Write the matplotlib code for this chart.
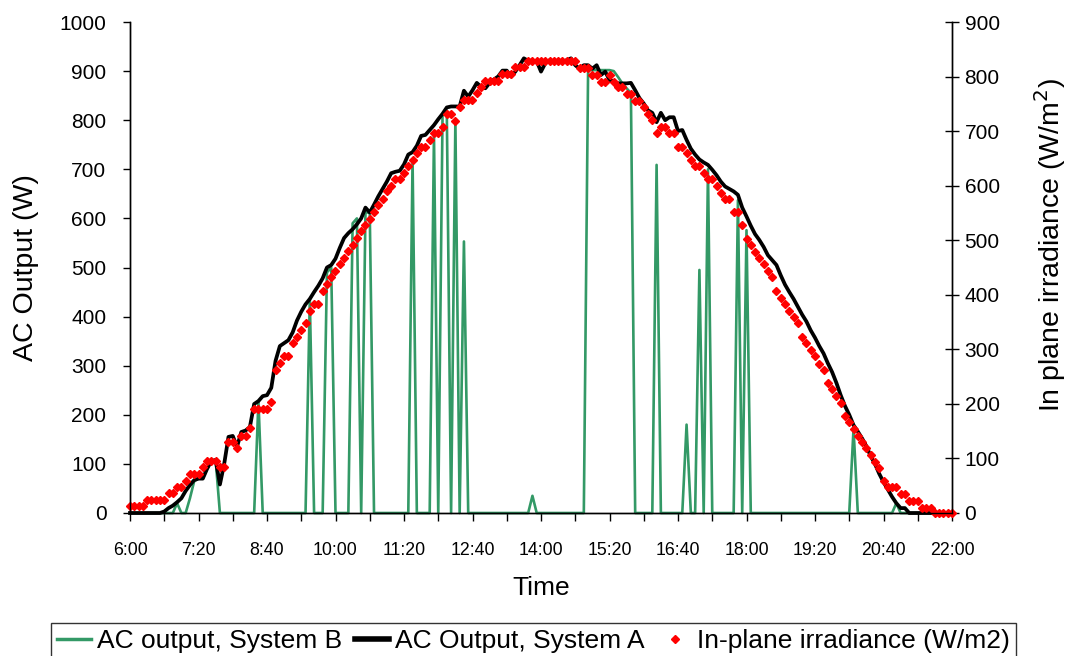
import numpy as np
import matplotlib
matplotlib.use("Agg")
import matplotlib.pyplot as plt
from matplotlib.lines import Line2D

plt.rcParams['font.family'] = ['Liberation Sans', 'DejaVu Sans']

# time axis: 5-minute readings from 6:00 to 22:00 (minutes after midnight)
minutes = np.arange(360, 1325, 5)

tick_labels = ["6:00", "7:20", "8:40", "10:00", "11:20", "12:40", "14:00",
               "15:20", "16:40", "18:00", "19:20", "20:40", "22:00"]

# AC output, System A (W)
system_a = [
    0, 0, 0, 0, 0, 0, 0, 0, 3, 10, 15, 22, 30, 45, 57, 67, 70, 70, 90, 106,
    108, 58, 100, 155, 157, 135, 165, 168, 175, 222, 228, 238, 240, 255, 310, 340, 346, 352, 368, 392,
    410, 425, 436, 450, 463, 478, 500, 505, 518, 540, 560, 570, 578, 588, 600, 622, 612, 628, 645, 660,
    675, 692, 695, 697, 710, 730, 735, 748, 768, 770, 780, 790, 802, 813, 826, 828, 828, 828, 860, 848,
    861, 876, 868, 865, 876, 883, 889, 901, 901, 889, 899, 912, 926, 921, 921, 920, 899, 916, 922, 920,
    920, 920, 922, 926, 912, 905, 912, 912, 905, 912, 892, 899, 882, 879, 875, 875, 875, 876, 861, 845,
    834, 820, 815, 796, 815, 800, 806, 806, 778, 780, 760, 742, 730, 720, 714, 709, 699, 688, 675, 665,
    660, 655, 648, 622, 604, 585, 568, 556, 542, 525, 515, 505, 484, 465, 450, 436, 420, 404, 390, 372,
    357, 340, 325, 305, 287, 265, 240, 218, 200, 179, 166, 152, 136, 116, 100, 80, 63, 48, 33, 20,
    10, 10, 0, 0, 0, 0, 0, 0, 0, 0, 0, 0, 0,
]

# AC output, System B (W)
system_b = [
    0, 0, 0, 0, 0, 0, 0, 0, 0, 0, 0, 20, 0, 0, 30, 65, 70, 70, 90, 106,
    108, 0, 0, 0, 0, 0, 0, 0, 0, 0, 228, 0, 0, 0, 0, 0, 0, 0, 0, 0,
    0, 0, 436, 0, 0, 0, 490, 500, 0, 0, 0, 0, 590, 600, 0, 612, 612, 0, 0, 0,
    0, 0, 0, 0, 0, 0, 720, 0, 0, 0, 0, 773, 0, 810, 815, 0, 800, 0, 553, 0,
    0, 0, 0, 0, 0, 0, 0, 0, 0, 0, 0, 0, 0, 0, 35, 0, 0, 0, 0, 0,
    0, 0, 0, 0, 0, 0, 0, 902, 902, 902, 902, 902, 902, 900, 888, 875, 865, 855, 0, 0,
    0, 0, 0, 709, 0, 0, 0, 0, 0, 0, 180, 0, 0, 495, 0, 700, 0, 0, 0, 0,
    0, 0, 637, 0, 576, 0, 0, 0, 0, 0, 0, 0, 0, 0, 0, 0, 0, 0, 0, 0,
    0, 0, 0, 0, 0, 0, 0, 0, 0, 172, 0, 0, 0, 0, 0, 0, 0, 0, 0, 20,
    0, 0, 0, 0, 0, 0, 0, 0, 0, 0, 0, 0, 0,
]

# In-plane irradiance (W/m2)
irradiance = [
    12, 12, 12, 12, 24, 24, 24, 24, 24, 36, 36, 48, 48, 59, 71, 71, 71, 84, 95, 95,
    95, 84, 84, 131, 131, 120, 142, 142, 155, 191, 191, 191, 191, 203, 263, 275, 288, 288, 311, 323,
    335, 348, 371, 383, 383, 407, 420, 432, 444, 456, 467, 480, 492, 504, 516, 528, 539, 552, 564, 576,
    590, 599, 612, 612, 624, 636, 647, 660, 671, 671, 684, 696, 696, 708, 731, 731, 719, 744, 757, 757,
    757, 769, 780, 792, 792, 792, 792, 805, 805, 805, 817, 817, 817, 828, 828, 828, 828, 828, 828, 828,
    828, 828, 828, 828, 828, 815, 815, 815, 803, 803, 790, 790, 803, 790, 780, 780, 768, 768, 756, 756,
    744, 731, 720, 696, 708, 708, 696, 696, 671, 671, 659, 647, 636, 636, 624, 612, 612, 599, 587, 575,
    575, 551, 551, 527, 503, 491, 479, 467, 456, 444, 432, 407, 395, 383, 371, 360, 348, 322, 311, 299,
    287, 274, 263, 239, 227, 214, 202, 178, 166, 154, 142, 131, 119, 106, 94, 82, 59, 47, 47, 47,
    35, 35, 22, 22, 22, 10, 10, 10, 0, 0, 0, 0, 0,
]

W, H = 1067, 656
fig = plt.figure(figsize=(W / 100, H / 100), dpi=100)
ax = fig.add_axes([130 / W, (H - 513) / H, (952 - 130) / W, (513 - 22) / H])

green = '#339966'
ax.plot(minutes, system_b, color=green, lw=1.9, zorder=2, clip_on=False)
ax.plot(minutes, system_a, color='black', lw=2.7, zorder=3, clip_on=False)

ax2 = ax.twinx()
ax2.plot(minutes, irradiance, ls='none', marker='D', ms=3.9, color='red',
         mec='red', clip_on=False)

ax.set_xlim(360, 1320)
ax.set_ylim(0, 1000)
ax2.set_ylim(0, 900)

xt = np.arange(360, 1321, 40)
ax.set_xticks(xt)
lab_iter = iter(tick_labels)
ax.set_xticklabels([next(lab_iter) if (t - 360) % 80 == 0 else '' for t in xt])
ax.set_yticks(np.arange(0, 1001, 100))
ax2.set_yticks(np.arange(0, 901, 100))

for a in (ax, ax2):
    a.spines['top'].set_visible(False)
    for s in a.spines.values():
        s.set_linewidth(1.0)

ax.tick_params(axis='x', direction='out', length=6, width=1, labelsize=12.8, pad=15)
ax.tick_params(axis='y', direction='out', length=5, width=1, labelsize=15, pad=12)
ax2.tick_params(axis='y', direction='inout', length=10, width=1, labelsize=15, pad=4)

ax.set_xlabel('Time', fontsize=19)
ax.xaxis.set_label_coords(0.5, -0.128)
ax.set_ylabel('AC Output (W)', fontsize=20.5)
ax.yaxis.set_label_coords(-0.111, 0.5)
ax2.set_ylabel(r'In plane irradiance (W/m$^2$)', fontsize=20.5)
ax2.yaxis.set_label_coords(1.097, 0.545)

handles = [
    Line2D([], [], color=green, lw=2.5),
    Line2D([], [], color='black', lw=4),
    Line2D([], [], ls='none', marker='D', ms=3.9, color='red'),
]
labels = ['AC output, System B', 'AC Output, System A', 'In-plane irradiance (W/m2)']
leg = fig.legend(handles, labels, loc='lower center', bbox_to_anchor=(0.5, -0.006),
                 ncol=3, fontsize=19, frameon=True, fancybox=False,
                 handlelength=1.3, handletextpad=0.2, columnspacing=0.5,
                 borderpad=0.25, borderaxespad=0.0)
leg.get_frame().set_edgecolor('black')
leg.get_frame().set_linewidth(1.0)

fig.savefig('out.png', dpi=100)
